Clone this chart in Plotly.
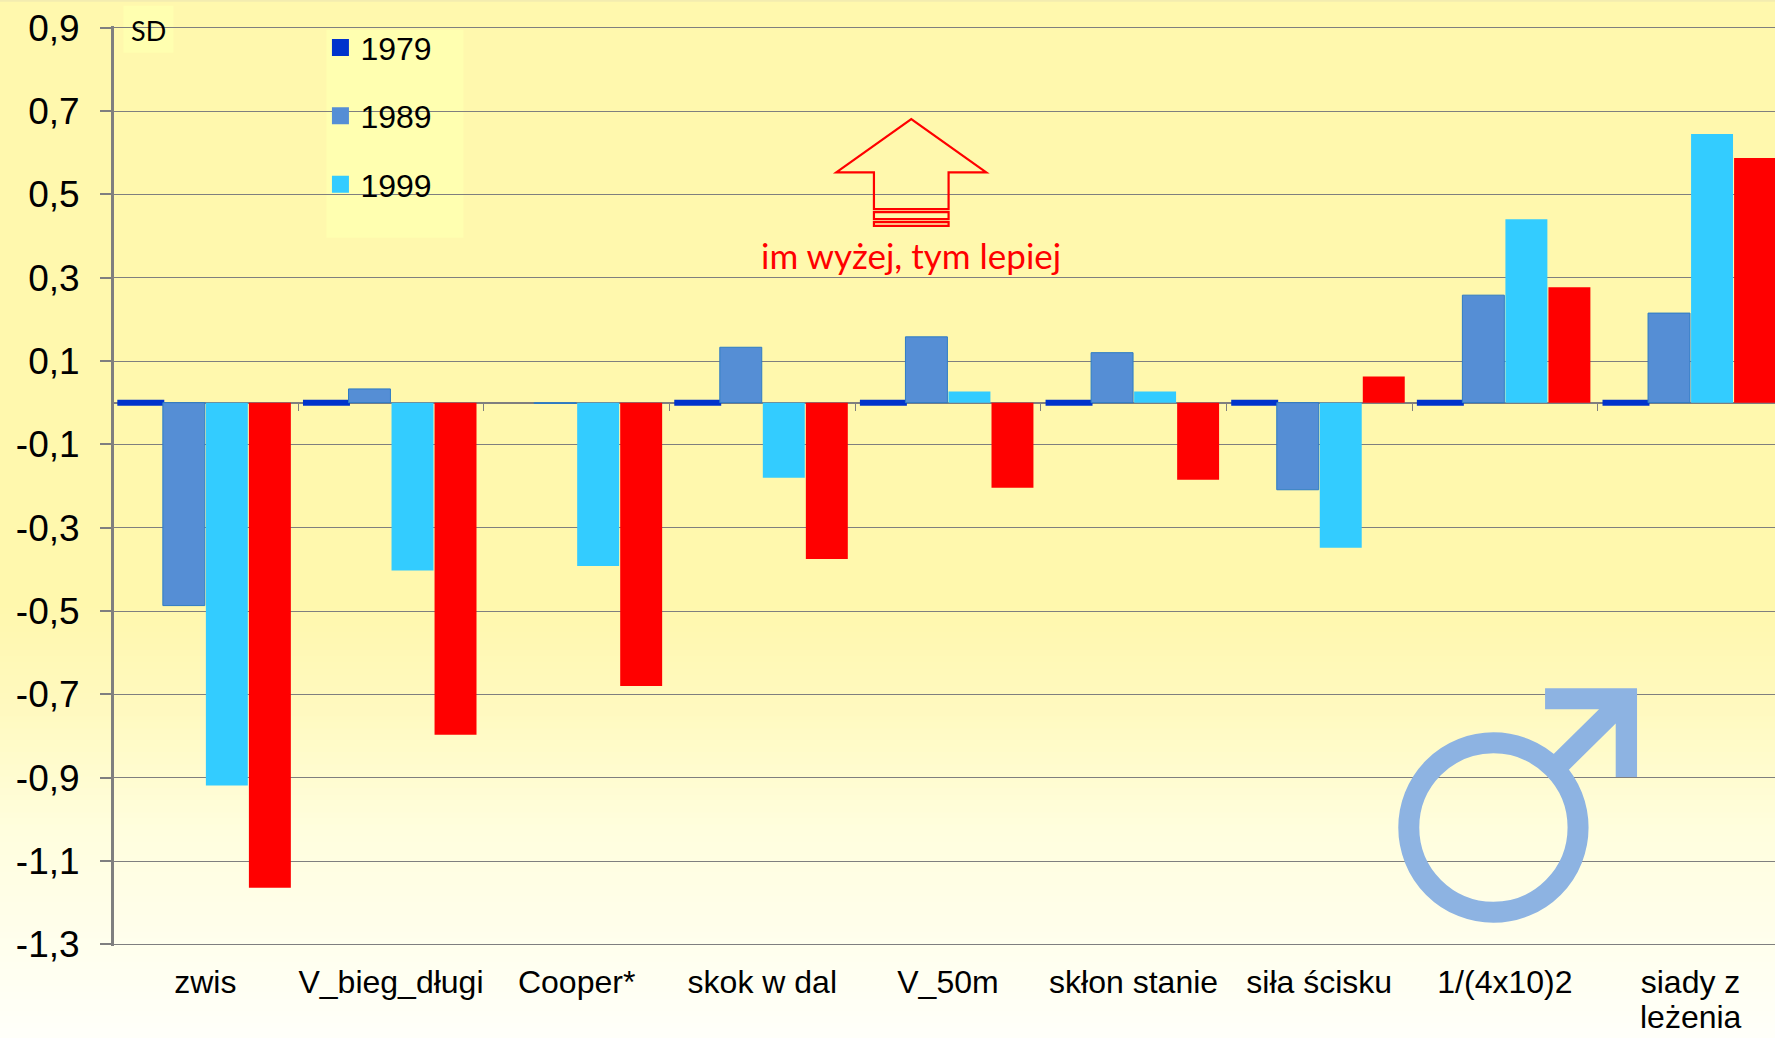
import plotly.graph_objects as go

categories = ["zwis", "V_bieg_długi", "Cooper*", "skok w dal", "V_50m", "skłon stanie", "siła ścisku", "1/(4x10)2", "siady z leżenia"]
x_labels = ["zwis", "V_bieg_długi", "Cooper*", "skok w dal", "V_50m", "skłon stanie", "siła ścisku", "1/(4x10)2", "siady z"]
s1979 = [0, 0, None, 0, 0, 0, 0, 0, 0]
s1989 = [-0.487, 0.033, -0.002, 0.133, 0.158, 0.120, -0.209, 0.258, 0.215]
s1999 = [-0.919, -0.403, -0.392, -0.180, 0.027, 0.027, -0.348, 0.440, 0.645]
s2009 = [-1.164, -0.797, -0.680, -0.375, -0.204, -0.185, 0.063, 0.277, 0.587]
y_ticks = [0.9, 0.7, 0.5, 0.3, 0.1, -0.1, -0.3, -0.5, -0.7, -0.9, -1.1, -1.3]
y_labels = ["0,9", "0,7", "0,5", "0,3", "0,1", "-0,1", "-0,3", "-0,5", "-0,7", "-0,9", "-1,1", "-1,3"]

W, H = 1775, 1038
L, T, B = 113.5, 26.33, 92.33
PW, PH = W - L, H - T - B
GRID = "#7f7f7f"
X_RANGE = [-0.492, 8.455]
Y_RANGE = [-1.304, 0.904]


def px(x):
    return (x - L) / PW


def py(y):
    return 1 - (y - T) / PH


def rect(x0, y0, x1, y1, **kw):
    return dict(type="rect", xref="paper", yref="paper", x0=px(x0), x1=px(x1), y0=py(y0), y1=py(y1), **kw)


def path(points, **kw):
    d = "M" + " L".join(f"{px(a):.5f},{py(b):.5f}" for a, b in points) + " Z"
    return dict(type="path", xref="paper", yref="paper", path=d, **kw)


# vertical background gradient (colour stops by page row)
stops = [(0, (255, 248, 173)), (600, (255, 248, 173)), (700, (255, 249, 190)), (830, (255, 254, 222)), (1038, (255, 255, 250))]


def bg(y):
    for (a, ca), (b, cb) in zip(stops, stops[1:]):
        if a <= y <= b:
            t = (y - a) / (b - a)
            return tuple(round(p + (q - p) * t) for p, q in zip(ca, cb))
    return stops[-1][1]


shapes = [rect(-5, 0, W + 5, 597, fillcolor="rgb(255,248,173)", line_width=0, layer="below")]
for y in range(596, H, 6):
    r, g, b_ = bg(y)
    shapes.append(rect(-5, y, W + 5, y + 7, fillcolor=f"rgb({r},{g},{b_})", line_width=0, layer="below"))
shapes.append(rect(-5, 0, W + 5, 2, fillcolor="rgb(243,236,176)", line_width=0, layer="below"))

NOTE = "#FFFFB0"
shapes.append(rect(123, 6, 173, 53, fillcolor=NOTE, line_width=0, layer="between"))
shapes.append(rect(326, 30, 463, 238, fillcolor=NOTE, line_width=0, layer="between"))

# red "higher is better" arrow
ARX, ARY = 730, 90
RED = dict(color="#FF0000", width=2.2)
arrow = [(431, 358), (431, 248), (318, 248), (543, 88), (768, 248), (655, 248), (655, 358)]
shapes.append(path([(ARX + a / 3, ARY + b / 3) for a, b in arrow], line=RED, layer="above"))
shapes.append(rect(ARX + 431 / 3, ARY + 367 / 3, ARX + 655 / 3, ARY + 388 / 3, line=RED, layer="above"))
shapes.append(rect(ARX + 431 / 3, ARY + 397 / 3, ARX + 655 / 3, ARY + 408 / 3, line=RED, layer="above"))

# male symbol
MX, MY = 1300, 650
BLUE = "#8DB3E2"
shapes.append(dict(type="circle", xref="paper", yref="paper",
                   x0=px(MX + (580 - 254) / 3), x1=px(MX + (580 + 254) / 3),
                   y0=py(MY + (532 + 254) / 3), y1=py(MY + (532 - 254) / 3),
                   line=dict(color=BLUE, width=21), layer="above"))
male = [(735, 114), (1011, 114), (1011, 380), (947, 380), (947, 220), (805, 360), (760, 312), (897, 177), (735, 177)]
shapes.append(path([(MX + a / 3, MY + b / 3) for a, b in male], fillcolor=BLUE, line_width=0, layer="above"))

COLORS = {"1979": "#0033CC", "1989": "#558ED5", "1999": "#33CCFF"}

fig = go.Figure()
fig.add_bar(x=categories, y=s1979, name="1979", showlegend=False, width=0.253,
            marker=dict(color=COLORS["1979"], line=dict(color=COLORS["1979"], width=6)))
fig.add_bar(x=categories, y=s1989, name="1989", showlegend=False, marker=dict(color=COLORS["1989"], line=dict(color="#2E7CC4", width=1)))
fig.add_bar(x=categories, y=s1999, name="1999", showlegend=False, marker=dict(color=COLORS["1999"], line_width=0))
fig.add_bar(x=categories, y=s2009, name="2009", showlegend=False, marker=dict(color="#FF0000", line_width=0))
# empty series on the overlay axis: they only size the legend swatches
for year, color in COLORS.items():
    fig.add_bar(x=[0], y=[None], xaxis="x2", name=year, legendgroup=year,
                marker=dict(color=color, line=dict(color=color, width=5)))
# carries the small tick marks on the zero line
fig.add_scatter(x=[0], y=[None], xaxis="x2", showlegend=False, hoverinfo="skip")

fig.update_layout(
    width=W, height=H, autosize=False,
    margin=dict(l=L, r=0, t=T, b=B, autoexpand=False),
    paper_bgcolor="rgba(0,0,0,0)", plot_bgcolor="rgba(0,0,0,0)",
    barmode="group", bargap=0.073, bargroupgap=0.025,
    font=dict(family="Liberation Sans", color="#000000"),
    shapes=shapes,
    legend=dict(x=px(320), y=py(20.5), xanchor="left", yanchor="top", bgcolor="rgba(0,0,0,0)",
                font=dict(size=32), traceorder="grouped", tracegroupgap=23.8, itemclick=False),
    xaxis=dict(type="category", range=X_RANGE, showgrid=False, showline=False, ticks="", automargin=False,
               tickvals=categories, ticktext=x_labels,
               zeroline=False, tickfont=dict(size=32), ticklabelstandoff=14),
    xaxis2=dict(overlaying="x", range=X_RANGE, anchor="free", position=-Y_RANGE[0] / (Y_RANGE[1] - Y_RANGE[0]), side="bottom",
                tick0=-0.5, dtick=1, ticks="outside", ticklen=7, tickwidth=1.2, tickcolor=GRID, automargin=False,
                showticklabels=False, showgrid=False, zeroline=False, showline=False),
    yaxis=dict(range=Y_RANGE, tickvals=y_ticks, ticktext=y_labels, tickfont=dict(size=37), ticklabelstandoff=13, automargin=False,
               showgrid=True, gridcolor=GRID, gridwidth=1.3, zeroline=True, zerolinecolor=GRID, zerolinewidth=2,
               showline=True, linecolor=GRID, linewidth=3, ticks="outside", ticklen=11, tickwidth=2, tickcolor=GRID),
    annotations=[
        dict(text="SD", xref="paper", yref="paper", x=px(148), y=py(31), xanchor="center", yanchor="middle", showarrow=False,
             font=dict(family="Lato", size=27, color="#000000")),
        dict(text="im wyżej, tym lepiej", xref="paper", yref="paper", x=px(911), y=py(255), xanchor="center", yanchor="middle", showarrow=False,
             font=dict(family="Lato", size=35, color="#FF0000")),
        # second line of the last category label
        dict(text="leżenia", xref="x", yref="paper", x=categories[8], y=py(1017), xanchor="center", yanchor="middle", showarrow=False,
             font=dict(size=32, color="#000000")),
    ],
)

fig.write_html("out.html", config=dict(displayModeBar=False),
               post_script="document.body.style.margin='0';document.body.style.overflow='hidden';")
